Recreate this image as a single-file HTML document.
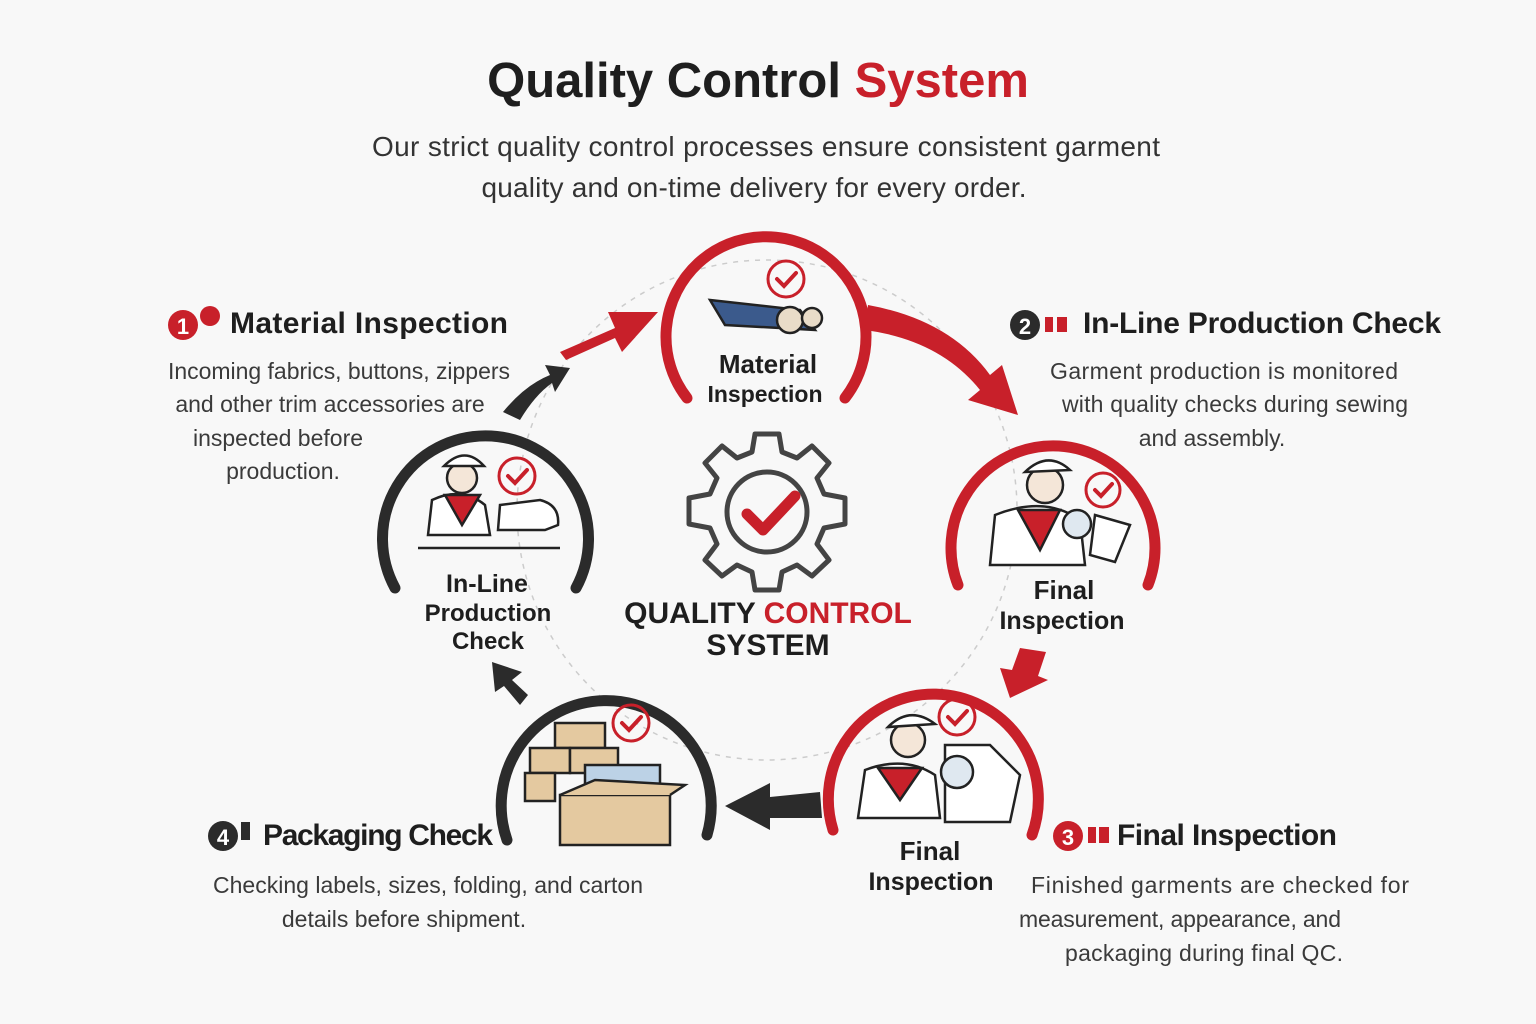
<!DOCTYPE html>
<html><head><meta charset="utf-8"><style>
html,body{margin:0;padding:0;background:#f8f8f8;}
svg{display:block;font-family:"Liberation Sans",sans-serif;}
</style></head><body>
<svg width="1536" height="1024" viewBox="0 0 1536 1024" xmlns="http://www.w3.org/2000/svg">
<rect width="1536" height="1024" fill="#f8f8f8"/>
<text x="758" y="97" text-anchor="middle" font-size="49" font-weight="bold" fill="#1e1e1e">Quality Control <tspan fill="#c8202a">System</tspan></text>
<text x="766" y="156" text-anchor="middle" font-size="28" fill="#333" textLength="788">Our strict quality control processes ensure consistent garment</text>
<text x="754" y="197" text-anchor="middle" font-size="28" fill="#333" textLength="545">quality and on-time delivery for every order.</text>

<circle cx="767" cy="510" r="250" fill="none" stroke="#ccc" stroke-width="1.5" stroke-dasharray="5 6"/>

<!-- rings -->
<g fill="none" stroke-width="11" stroke-linecap="round">
<path d="M687 398 A100 100 0 1 1 845 398" stroke="#c8202a"/>
<path d="M958 585 A102 102 0 1 1 1148 585" stroke="#c8202a"/>
<path d="M833 830 A105 105 0 1 1 1032 835" stroke="#c8202a"/>
<path d="M507 840 A105 105 0 1 1 707 835" stroke="#2b2b2b"/>
<path d="M395 588 A103 103 0 1 1 576 588" stroke="#2b2b2b"/>
</g>

<!-- arrows -->
<g fill="#c8202a">
<path d="M560 352 L615 328 L608 312 L658 312 L622 352 L615 338 L566 360 Z"/>
<path d="M868 305 Q950 320 990 375 L1002 365 L1018 415 L968 400 L980 390 Q940 340 865 330 Z"/>
<path d="M1020 648 L1046 652 L1038 676 L1048 680 L1010 698 L1000 668 L1012 670 Z"/>
</g>
<g fill="#2b2b2b">
<path d="M820 792 L770 797 L770 783 L725 806 L770 830 L770 818 L822 818 Z"/>
<path d="M528 695 L512 680 L522 672 L492 662 L495 692 L504 686 L520 705 Z"/>
<path d="M503 412 Q525 385 550 375 L545 365 L570 368 L555 392 L552 383 Q535 395 520 420 Z"/>
</g>

<!-- ring labels -->
<g font-weight="bold" fill="#1e1e1e" text-anchor="middle">
<text x="768" y="373" font-size="26">Material</text>
<text x="765" y="402" font-size="23">Inspection</text>
<text x="1064" y="599" font-size="26">Final</text>
<text x="1062" y="629" font-size="25">Inspection</text>
<text x="930" y="860" font-size="26">Final</text>
<text x="931" y="890" font-size="25">Inspection</text>
<text x="487" y="592" font-size="25">In-Line</text>
<text x="488" y="621" font-size="24">Production</text>
<text x="488" y="649" font-size="24">Check</text>
<text x="768" y="623" font-size="30">QUALITY <tspan fill="#c8202a">CONTROL</tspan></text>
<text x="768" y="655" font-size="30">SYSTEM</text>
</g>

<!-- gear -->
<g transform="translate(767,512)">
<g fill="none" stroke="#444" stroke-width="5" stroke-linejoin="round">
<path d="M-12 -78 L12 -78 L15 -60 L30 -54 L45 -66 L62 -49 L50 -34 L57 -18 L78 -14 L78 12 L57 16 L50 32 L62 48 L45 64 L30 53 L15 60 L12 78 L-12 78 L-15 60 L-30 53 L-45 64 L-62 48 L-50 32 L-57 16 L-78 12 L-78 -14 L-57 -18 L-50 -34 L-62 -49 L-45 -66 L-30 -54 L-15 -60 Z"/>
<circle r="40"/>
</g>
<path d="M-20 2 L-4 18 L28 -16" fill="none" stroke="#c8202a" stroke-width="11" stroke-linecap="round" stroke-linejoin="round"/>
</g>

<!-- small check marks -->
<g fill="none" stroke="#c8202a" stroke-width="3">
<circle cx="786" cy="279" r="18"/><circle cx="1103" cy="490" r="17"/><circle cx="957" cy="717" r="18"/><circle cx="631" cy="723" r="18"/><circle cx="517" cy="476" r="18"/>
</g>
<g fill="none" stroke="#c8202a" stroke-width="4" stroke-linecap="round">
<path d="M777 279 l7 7 l12 -13"/><path d="M1095 490 l6 6 l11 -12"/><path d="M948 717 l7 7 l12 -13"/><path d="M622 723 l7 7 l12 -13"/><path d="M508 476 l7 7 l12 -13"/>
</g>

<!-- simple icons -->
<g stroke="#222" stroke-width="2.5">
<path d="M710 300 L800 310 L815 330 L725 325 Z" fill="#3b5a8c"/>
<circle cx="790" cy="320" r="13" fill="#e9dcc8"/><circle cx="812" cy="318" r="10" fill="#e9dcc8"/>
<circle cx="1045" cy="485" r="18" fill="#f4e6d8"/><path d="M1025 472 Q1048 450 1070 470 Z" fill="#fff"/>
<path d="M990 565 L995 515 Q1045 495 1080 520 L1085 565 Z" fill="#fff"/><path d="M1018 510 L1040 550 L1060 510 Z" fill="#c8202a"/>
<circle cx="1077" cy="524" r="14" fill="#dfe8f0"/><path d="M1095 515 L1130 525 L1115 562 L1090 555 Z" fill="#fff"/>
<circle cx="908" cy="740" r="17" fill="#f4e6d8"/><path d="M888 727 Q910 705 935 724 Z" fill="#fff"/>
<path d="M858 818 L865 770 Q905 755 935 775 L940 818 Z" fill="#fff"/><path d="M878 768 L900 800 L922 768 Z" fill="#c8202a"/>
<path d="M945 745 L990 745 L1020 775 L1010 822 L945 822 Z" fill="#fff"/><circle cx="957" cy="772" r="16" fill="#dfe8f0"/>
<rect x="555" y="723" width="50" height="25" fill="#e4c9a0"/><rect x="530" y="748" width="40" height="25" fill="#e4c9a0"/>
<rect x="570" y="748" width="48" height="25" fill="#e4c9a0"/><rect x="525" y="773" width="30" height="28" fill="#e4c9a0"/>
<rect x="585" y="765" width="75" height="30" fill="#bcd2e6"/>
<path d="M560 795 L670 795 L670 845 L560 845 Z" fill="#e4c9a0"/><path d="M560 795 L595 780 L685 785 L670 795" fill="#e4c9a0"/>
<circle cx="462" cy="478" r="15" fill="#f4e6d8"/><path d="M444 466 Q465 445 484 466 Z" fill="#fff"/>
<path d="M428 535 L432 500 Q462 486 485 505 L490 535 Z" fill="#fff"/><path d="M445 495 L462 525 L480 495 Z" fill="#c8202a"/>
<path d="M498 530 L500 505 L540 500 Q560 505 558 525 L545 530 Z" fill="#fff"/>
<path d="M418 548 L560 548" fill="none"/>
</g>

<!-- side headers -->
<g font-weight="bold" fill="#1e1e1e" font-size="30">
<circle cx="183" cy="325" r="15" fill="#c8202a"/><text x="183" y="334" font-size="22" fill="#fff" text-anchor="middle">1</text>
<circle cx="210" cy="316" r="10" fill="#c8202a"/>
<text x="230" y="333" textLength="278">Material Inspection</text>
<circle cx="1025" cy="325" r="15" fill="#2b2b2b"/><text x="1025" y="334" font-size="22" fill="#fff" text-anchor="middle">2</text>
<rect x="1045" y="317" width="8" height="15" fill="#c8202a"/><rect x="1057" y="317" width="10" height="15" fill="#c8202a"/>
<text x="1083" y="333" textLength="358">In-Line Production Check</text>
<circle cx="1068" cy="836" r="15" fill="#c8202a"/><text x="1068" y="845" font-size="22" fill="#fff" text-anchor="middle">3</text>
<rect x="1088" y="827" width="8" height="16" fill="#c8202a"/><rect x="1099" y="827" width="10" height="16" fill="#c8202a"/>
<text x="1117" y="845" textLength="220">Final Inspection</text>
<circle cx="223" cy="836" r="15" fill="#2b2b2b"/><text x="223" y="845" font-size="22" fill="#fff" text-anchor="middle">4</text>
<rect x="241" y="822" width="9" height="18" fill="#2b2b2b"/>
<text x="263" y="845" textLength="230">Packaging Check</text>
</g>
<g font-size="23" fill="#3a3a3a" text-anchor="middle">
<text x="339" y="379" textLength="342">Incoming fabrics, buttons, zippers</text>
<text x="330" y="412">and other trim accessories are</text>
<text x="278" y="446">inspected before</text>
<text x="283" y="479">production.</text>
<text x="1224" y="379" textLength="348">Garment production is monitored</text>
<text x="1235" y="412" textLength="346">with quality checks during sewing</text>
<text x="1212" y="446">and assembly.</text>
<text x="428" y="893" textLength="430">Checking labels, sizes, folding, and carton</text>
<text x="404" y="927">details before shipment.</text>
<text x="1220" y="893" textLength="378">Finished garments are checked for</text>
<text x="1180" y="927" textLength="322">measurement, appearance, and</text>
<text x="1204" y="961" textLength="278">packaging during final QC.</text>
</g>
</svg>
</body></html>
